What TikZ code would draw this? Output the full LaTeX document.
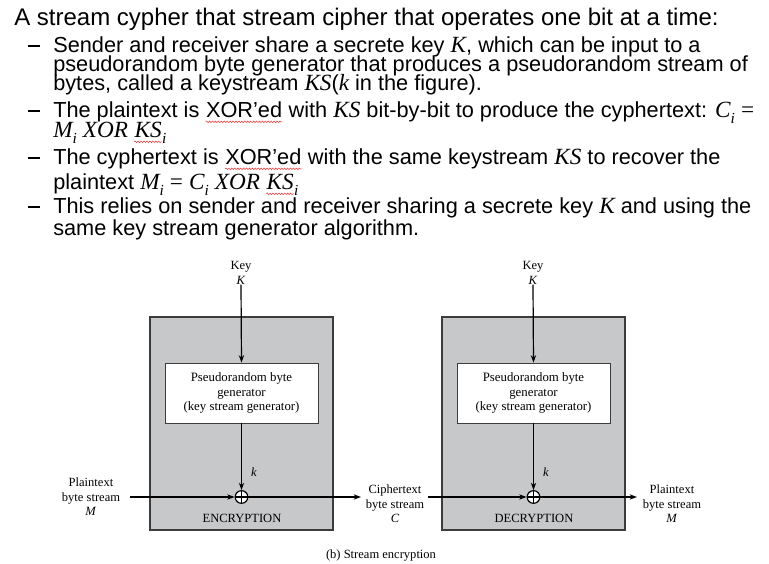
\documentclass[tikz,border=0pt]{standalone}
\usepackage{fontspec}
\setmainfont{Liberation Sans}
\newfontfamily\dfont{Liberation Serif}
\usetikzlibrary{arrows.meta,decorations.pathmorphing}
\definecolor{boxgray}{RGB}{199,200,202}
\definecolor{edgegray}{RGB}{60,60,60}
\definecolor{squig}{RGB}{230,60,60}
\newcommand\mi[1]{{\fontsize{17.4}{17.4}\selectfont\dfont\itshape #1}}
\newcommand\sbi[1]{\raisebox{-0.3em}{\fontsize{11.5}{11.5}\selectfont\dfont\itshape #1}}
\newcommand\meq{\hspace{0.28em}{\fontsize{17.4}{17.4}\selectfont\dfont=}\hspace{0.28em}}
\tikzset{
  bigline/.style={anchor=base west, inner sep=0pt, font=\fontsize{18}{18}\selectfont},
  bline/.style={anchor=base west, inner sep=0pt, font=\fontsize{16.3}{16.3}\selectfont},
  dashmark/.style={line width=0.9pt},
  squiggle/.style={draw=squig, line width=0.4pt, decorate, decoration={snake, amplitude=0.6pt, segment length=2.2pt}},
  outerbox/.style={draw=edgegray, fill=boxgray, line width=0.9pt, minimum width=137.25pt, minimum height=159.75pt, inner sep=0pt},
  genbox/.style={draw=edgegray, fill=white, line width=0.7pt, minimum width=114.75pt, minimum height=45pt, align=center, inner sep=0pt, font=\dfont\fontsize{9.6}{10.9}\selectfont},
  lbl/.style={align=center, inner sep=0pt, font=\dfont\fontsize{9.4}{10.8}\selectfont},
  xorop/.style={circle, draw=black, fill=white, line width=0.9pt, minimum size=9.5pt, inner sep=0pt,
    path picture={\draw[line width=0.8pt] (path picture bounding box.north) -- (path picture bounding box.south) (path picture bounding box.west) -- (path picture bounding box.east);}},
  arr/.style={line width=0.9pt, -{Stealth[length=5.5pt, width=4pt]}}
}
\newcommand\squig[1]{\tikz[baseline=(sq.base)]{\node[inner sep=0pt, anchor=base] (sq) {#1}; \draw[squiggle] ([yshift=-3.6pt]sq.base west) -- ([yshift=-3.6pt]sq.base east);}}
\begin{document}
\begin{tikzpicture}[x=0.75pt,y=-0.75pt]
\useasboundingbox (0,0) rectangle (769,564);
% --- text ---
\node[bigline] (t1) at (14,26) {A stream cypher that stream cipher that operates one bit at a time:};
\node[bline] (t2) at (53,52) {Sender and receiver share a secrete key \mi{K}, which can be input to a};
\node[bline] (t3) at (53,71) {pseudorandom byte generator that produces a pseudorandom stream of};
\node[bline] (t4) at (53,90) {bytes, called a keystream \mi{KS}(\mi{k} in the figure).};
\node[bline] (t5) at (53,117) {The plaintext is \squig{XOR’ed} with \mi{KS} bit-by-bit to produce the cyphertext: \mi{C}\sbi{i}\meq};
\node[bline] (t6) at (53,137) {\mi{M}\sbi{i} \mi{XOR} \squig{\mi{KS}}\sbi{i}};
\node[bline] (t7) at (53,164) {The cyphertext is \squig{XOR’ed} with the same keystream \mi{KS} to recover the};
\node[bline] (t8) at (53,189) {plaintext \mi{M}\sbi{i}\meq\mi{C}\sbi{i} \mi{XOR} \squig{\mi{KS}}\sbi{i}};
\node[bline] (t9) at (53,213) {This relies on sender and receiver sharing a secrete key \mi{K} and using the};
\node[bline] (t10) at (53,235) {same key stream generator algorithm.};
\foreach \yy in {46,111,158,207} \draw[dashmark] (28,\yy) -- (40,\yy);
% --- diagram ---
\node[outerbox] (enc) at (241.5,423.5) {};
\node[outerbox] (dec) at (533.5,423.5) {};
\node[genbox] (gen1) at (241.5,393) {Pseudorandom byte\\generator\\(key stream generator)};
\node[genbox] (gen2) at (533.5,393) {Pseudorandom byte\\generator\\(key stream generator)};
\node[lbl] (key1) at (241,273) {Key\\\textit{K}};
\node[lbl] (key2) at (533,273) {Key\\\textit{K}};
\node[xorop] (x1) at (241.5,497) {};
\node[xorop] (x2) at (533.5,497) {};
\node[lbl] (k1) at (254,472) {\textit{k}};
\node[lbl] (k2) at (546,472) {\textit{k}};
\node[lbl] (pl1) at (91,497) {Plaintext\\byte stream\\\textit{M}};
\node[lbl] (ct) at (395,504) {Ciphertext\\byte stream\\\textit{C}};
\node[lbl] (pl2) at (672,504) {Plaintext\\byte stream\\\textit{M}};
\node[lbl] (encl) at (242,518) {ENCRYPTION};
\node[lbl] (decl) at (534,518) {DECRYPTION};
\node[lbl] (cap) at (381,556) {(b) Stream encryption};
\draw[arr] (key1.south) -- (gen1.north);
\draw[arr] (key2.south) -- (gen2.north);
\draw[arr] (gen1.south) -- (x1.north);
\draw[arr] (gen2.south) -- (x2.north);
\coordinate (p1) at (130,497);
\coordinate (c1) at (361,497);
\coordinate (c2) at (428,497);
\coordinate (p2) at (637,497);
\draw[arr] (p1) -- (x1.west);
\draw[arr] (x1.east) -- (c1);
\draw[arr] (c2) -- (x2.west);
\draw[arr] (x2.east) -- (p2);
\end{tikzpicture}
\end{document}
